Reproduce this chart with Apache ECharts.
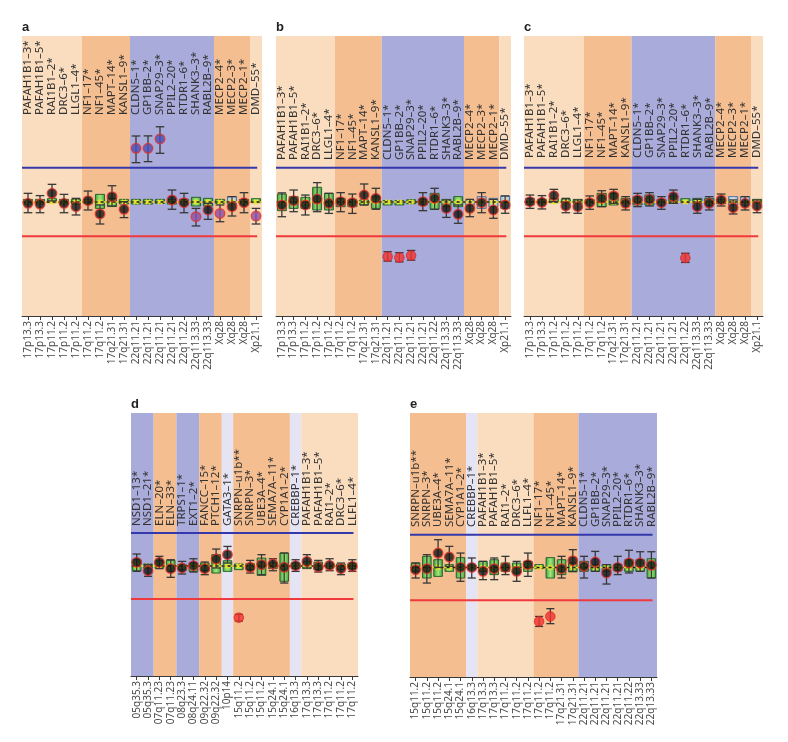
<!DOCTYPE html>
<html><head><meta charset="utf-8">
<script src="https://cdn.jsdelivr.net/npm/echarts@6/dist/echarts.min.js"></script>
<style>html,body{margin:0;padding:0;background:#fff}#c{width:788px;height:742px}</style>
</head><body><div id="c"></div>
<script>
// ---------- categories ----------
const probesABC = ['PAFAH1B1–3*','PAFAH1B1–5*','RAI1B1–2*','DRC3–6*','LLGL1–4*','NF1–17*','NF1–45*','MAPT–14*','KANSL1–9*','CLDN5–1*','GP1BB–2*','SNAP29–3*','PPIL2–20*','RTDR1–6*','SHANK3–3*','RABL2B–9*','MECP2–4*','MECP2–3*','MECP2–1*','DMD–55*'];
const bandsABC = ['17p13.3','17p13.3','17p11.2','17p11.2','17p11.2','17q11.2','17q11.2','17q21.31','17q21.31','22q11.21','22q11.21','22q11.21','22q11.21','22q11.22','22q113.33','22q113.33','Xq28','Xq28','Xq28','Xp21.1'];
const probesD = ['NSD1–13*','NSD1–21*','ELN–20*','ELN–33*','TRPS1–1*','EXT1–2*','FANCC–15*','PTCH1–12*','GATA3–1*','SNRPN–u1b**','SNRPN–3*','UBE3A–4*','SEMA7A–11*','CYP1A1–2*','CREBBP–1*','PAFAH1B1–3*','PAFAH1B1–5*','RAI1–2*','DRC3–6*','LLFL1–4*'];
const bandsD = ['05q35.3','05q35.3','07q11.23','07q11.23','08q23.3','08q24.11','09q22.32','09q22.32','10p14','15q11.2','15q11.2','15q11.2','15q24.1','15q24.1','16q13.3','17q13.3','17q13.3','17q11.2','17q11.2','17q11.2'];
const probesE = ['SNRPN–u1b**','SNRPN–3*','UBE3A–4*','SEMA7A–11*','CYP1A1–2*','CREBBP–1*','PAFAH1B1–3*','PAFAH1B1–5*','RAI1–2*','DRC3–6*','LLFL1–4*','NF1–17*','NF1–45*','MAPT–14*','KANSL1–9*','CLDN5–1*','GP1BB–2*','SNAP29–3*','PPIL2–20*','RTDR1–6*','SHANK3–3*','RABL2B–9*'];
const bandsE = ['15q11.2','15q11.2','15q11.2','15q24.1','15q24.1','16q13.3','17q13.3','17q13.3','17q11.2','17q11.2','17q11.2','17q11.2','17q11.2','17q21.31','17q21.31','22q11.21','22q11.21','22q11.21','22q11.21','22q11.22','22q13.33','22q13.33'];

// chromosome region groups: [firstIndex, lastIndex, kind]
const regionsABC = [[0,4,'peach'],[5,8,'orange'],[9,15,'blue'],[16,18,'orange'],[19,19,'peach']];
const regionsD = [[0,1,'blue'],[2,3,'orange'],[4,5,'blue'],[6,7,'orange'],[8,8,'pale'],[9,13,'orange'],[14,14,'pale'],[15,19,'peach']];
const regionsE = [[0,4,'orange'],[5,5,'pale'],[6,10,'peach'],[11,14,'orange'],[15,21,'blue']];

const thresholds = {upper:1.3, lower:0.7, ref:1.0};

// ---------- panel a ----------
const aRatio  = [0.988,0.982,1.076,0.988,0.959,1.012,0.895,1.047,0.936,1.471,1.471,1.553,1.018,0.994,0.871,0.930,0.900,0.959,0.994,0.877];
const aErrHi  = [1.076,1.056,1.155,1.067,1.032,1.096,0.974,1.143,1.003,1.579,1.580,1.660,1.105,1.076,0.944,0.988,0.974,1.047,1.082,0.944];
const aErrLo  = [0.906,0.906,1.010,0.906,0.886,0.930,0.807,0.965,0.863,1.345,1.354,1.427,0.936,0.906,0.790,0.848,0.827,0.877,0.906,0.807];
const aRefHi  = [1.023,1.023,1.012,1.023,1.023,1.018,1.067,1.032,1.023,1.023,1.023,1.018,1.023,1.023,1.041,1.032,1.018,1.047,1.023,1.012];
const aRefLo  = [0.982,0.982,0.994,0.982,0.982,0.988,0.944,0.960,0.982,0.982,0.982,0.988,0.982,0.982,0.965,0.965,0.988,0.982,0.982,0.994];
const aStatus = ['n','n','n','n','n','n','n','n','n','G','G','G','n','n','P','n','P','n','n','P'];
// ---------- panel b ----------
const bRatio  = [0.974,1.012,0.974,1.026,0.988,1.003,0.994,1.061,1.032,0.520,0.512,0.530,1.003,1.032,0.944,0.892,0.944,0.994,0.930,0.974];
const bErrHi  = [1.080,1.105,1.061,1.170,1.076,1.082,1.070,1.158,1.120,0.564,0.555,0.575,1.082,1.120,1.018,0.974,1.023,1.082,1.023,1.053];
const bErrLo  = [0.871,0.915,0.886,0.915,0.900,0.915,0.900,0.974,0.936,0.482,0.475,0.490,0.924,0.936,0.865,0.813,0.871,0.906,0.857,0.901];
const bRefHi  = [1.070,1.047,1.041,1.129,1.076,1.032,1.018,1.018,1.047,1.012,1.012,1.006,1.020,1.076,1.023,1.047,1.012,1.047,1.032,1.053];
const bRefLo  = [0.924,0.944,0.944,0.930,0.930,0.959,0.959,0.974,0.944,0.974,0.974,0.985,0.975,0.936,0.959,0.959,0.974,0.944,0.959,0.944];
const bStatus = ['n','n','n','n','n','n','n','n','n','L','L','L','n','n','n','n','n','n','n','n'];
// ---------- panel c ----------
const cRatio  = [1.003,0.997,1.056,0.965,0.959,0.994,1.032,1.053,0.988,1.018,1.023,0.994,1.047,0.509,0.959,0.988,1.018,0.950,0.988,0.965];
const cErrHi  = [1.061,1.056,1.111,1.032,1.018,1.053,1.099,1.111,1.047,1.076,1.082,1.047,1.105,0.550,1.023,1.047,1.070,1.018,1.047,1.018];
const cErrLo  = [0.944,0.939,1.003,0.906,0.901,0.936,0.959,0.988,0.930,0.959,0.965,0.936,0.988,0.470,0.901,0.930,0.965,0.895,0.930,0.906];
const cRefHi  = [1.032,1.020,1.018,1.023,1.023,1.020,1.076,1.076,1.032,1.047,1.061,1.020,1.053,1.018,1.032,1.032,1.020,1.047,1.047,1.018];
const cRefLo  = [0.974,0.985,0.994,0.988,0.988,0.985,0.959,0.974,0.988,0.974,0.974,0.985,0.988,0.994,0.988,0.974,0.985,0.974,0.974,0.988];
const cStatus = ['n','n','n','n','n','n','n','n','n','n','n','n','n','L','n','n','n','n','n','n'];
// ---------- panel d ----------
const dRatio  = [1.033,0.957,1.033,0.976,0.982,1.003,0.976,1.063,1.103,0.530,0.988,1.012,1.018,0.988,1.003,1.042,0.991,1.006,0.976,0.997];
const dErrHi  = [1.109,1.012,1.088,1.057,1.042,1.066,1.036,1.154,1.178,0.560,1.051,1.103,1.066,1.118,1.057,1.103,1.051,1.066,1.027,1.057];
const dErrLo  = [0.951,0.906,0.976,0.897,0.927,0.945,0.921,0.982,1.027,0.500,0.936,0.921,0.957,0.845,0.951,0.982,0.945,0.957,0.921,0.951];
const dRefHi  = [1.057,1.012,1.048,1.051,1.012,1.027,1.027,1.103,1.048,1.018,1.021,1.072,1.027,1.118,1.027,1.042,1.036,1.018,1.018,1.027];
const dRefLo  = [0.957,0.982,0.982,0.951,0.967,0.951,0.957,0.936,0.951,0.967,0.967,0.915,0.976,0.861,0.976,0.976,0.967,0.982,0.967,0.976];
const dStatus = ['n','n','n','n','n','n','n','n','n','L','n','n','n','n','n','n','n','n','n','n'];
// ---------- panel e ----------
const eRatio  = [0.980,0.989,1.132,1.096,1.001,1.001,0.965,0.989,1.001,0.965,1.026,0.508,0.553,0.989,1.062,1.011,1.050,0.950,1.001,1.041,1.041,1.020];
const eErrHi  = [1.041,1.117,1.254,1.193,1.132,1.087,1.056,1.087,1.102,1.056,1.132,0.553,0.624,1.102,1.163,1.102,1.147,1.026,1.102,1.157,1.144,1.144];
const eErrLo  = [0.904,0.858,1.001,1.011,0.874,0.904,0.889,0.889,0.935,0.874,0.919,0.462,0.487,0.904,0.965,0.904,0.965,0.849,0.935,0.950,0.965,0.904];
const eRefHi  = [1.041,1.102,1.071,1.026,1.090,1.015,1.056,1.071,1.041,1.041,1.056,1.011,1.090,1.071,1.041,1.056,1.026,1.026,1.026,1.071,1.071,1.080];
const eRefLo  = [0.965,0.904,0.919,0.965,0.904,0.985,0.965,0.935,0.965,0.950,0.965,0.990,0.904,0.935,0.960,0.965,0.965,0.965,0.970,0.965,0.965,0.904];
const eStatus = ['n','n','n','n','n','n','n','n','n','n','n','L','L','n','n','n','n','n','n','n','n','n'];

// ---------- styles ----------
const REGION_COLORS = {peach:'#FADCBF', orange:'#F5BE91', blue:'#A9ABDA', pale:'#E4E4F4'};
const STATUS_STYLE = {
  n:{color:'#141414', borderColor:'#E2302B', borderWidth:1.4},
  L:{color:'#F2322F', borderColor:'#D92222', borderWidth:1},
  G:{color:'#4A4DB4', borderColor:'#E2302B', borderWidth:1.4},
  P:{color:'#8E50A8', borderColor:'#E2302B', borderWidth:1.4}
};
const slateBoxes = {a:[17], b:[16,17,18,19], c:[0,17,18], d:[], e:[]};
const FONT = "'Noto Sans', 'Open Sans', sans-serif";

const panels = [
  {key:'a', names:probesABC, bands:bandsABC, regions:regionsABC, r:aRatio, eHi:aErrHi, eLo:aErrLo, bHi:aRefHi, bLo:aRefLo, st:aStatus,
   lay:{left:22, top:36, width:240, height:280, scale:114, labelBase:115}},
  {key:'b', names:probesABC, bands:bandsABC, regions:regionsABC, r:bRatio, eHi:bErrHi, eLo:bErrLo, bHi:bRefHi, bLo:bRefLo, st:bStatus,
   lay:{left:276, top:36, width:235, height:280, scale:114, labelBase:160}},
  {key:'c', names:probesABC, bands:bandsABC, regions:regionsABC, r:cRatio, eHi:cErrHi, eLo:cErrLo, bHi:cRefHi, bLo:cRefLo, st:cStatus,
   lay:{left:524, top:36, width:239, height:280, scale:114, labelBase:158}},
  {key:'d', names:probesD, bands:bandsD, regions:regionsD, r:dRatio, eHi:dErrHi, eLo:dErrLo, bHi:dRefHi, bLo:dRefLo, st:dStatus,
   lay:{left:131, top:413, width:227, height:263, scale:110, labelBase:526}},
  {key:'e', names:probesE, bands:bandsE, regions:regionsE, r:eRatio, eHi:eErrHi, eLo:eErrLo, bHi:eRefHi, bLo:eRefLo, st:eStatus,
   lay:{left:410, top:413, width:247, height:264, scale:109.5, labelBase:527}}
];

const grid = [], xAxis = [], yAxis = [], series = [], title = [];
panels.forEach((p, k) => {
  const L = p.lay;
  grid.push({left:L.left, top:L.top, width:L.width, height:L.height, containLabel:false, outerBoundsMode:'none'});
  xAxis.push({type:'category', gridIndex:k, data:p.bands, position:'bottom', boundaryGap:true,
    axisLine:{show:true, onZero:false, lineStyle:{color:'#3a3a3a', width:1}},
    axisTick:{show:true, alignWithLabel:true, length:4, lineStyle:{color:'#3a3a3a'}},
    axisLabel:{interval:0, rotate:90, margin:5, fontSize:10, color:'#4a4a4a', fontFamily:FONT, hideOverlap:false},
    splitLine:{show:false}});
  yAxis.push({type:'value', gridIndex:k, min:0, max:L.height / L.scale, show:false, splitLine:{show:false}});

  const xi = k, yi = k;
  const slate = slateBoxes[p.key];
  // background chromosome regions
  series.push({type:'custom', xAxisIndex:xi, yAxisIndex:yi, silent:true, z:1, clip:false,
    data:p.regions.map(r => [r[0], 0]),
    renderItem:(params, api) => {
      const r = p.regions[params.dataIndex];
      const bw = api.size([1,0])[0];
      const x0 = api.coord([r[0], 0])[0] - bw/2;
      const x1 = api.coord([r[1], 0])[0] + bw/2;
      const cs = params.coordSys;
      return {type:'rect', shape:{x:x0, y:cs.y, width:x1-x0, height:cs.height}, style:{fill:REGION_COLORS[r[2]]}};
    }});
  // probe name labels
  series.push({type:'custom', xAxisIndex:xi, yAxisIndex:yi, silent:true, z:7, clip:false,
    data:p.names.map((n,i) => [i, 0]),
    renderItem:(params, api) => {
      const i = api.value(0);
      const x = api.coord([i, 0])[0];
      return {type:'text', x:x, y:L.labelBase, rotation:Math.PI/2,
        style:{text:p.names[i], fontSize:11.5, fontFamily:FONT, fill:'#333', align:'left', verticalAlign:'middle'}};
    }});
  // threshold lines
  series.push({type:'custom', xAxisIndex:xi, yAxisIndex:yi, silent:true, z:2, clip:false,
    data:[[0, thresholds.ref]],
    renderItem:(params, api) => {
      const cs = params.coordSys;
      const bw = api.size([1,0])[0];
      const xEnd = api.coord([p.names.length-1, 0])[0] + bw*0.1;
      const yU = api.coord([0, thresholds.upper])[1], yL = api.coord([0, thresholds.lower])[1];
      return {type:'group', children:[
        {type:'line', shape:{x1:cs.x, y1:yU, x2:xEnd, y2:yU}, style:{stroke:'#3438AC', lineWidth:2}},
        {type:'line', shape:{x1:cs.x, y1:yL, x2:xEnd, y2:yL}, style:{stroke:'#F0393C', lineWidth:2}}
      ]};
    }});
  // reference boxes
  series.push({type:'custom', xAxisIndex:xi, yAxisIndex:yi, silent:true, z:3, clip:false,
    data:p.bLo.map((v,i) => [i, v, p.bHi[i]]),
    renderItem:(params, api) => {
      const i = api.value(0);
      const bw = api.size([1,0])[0];
      const pLo = api.coord([i, api.value(1)]), pHi = api.coord([i, api.value(2)]);
      const w = bw*0.76;
      const h = Math.max(pLo[1]-pHi[1], 4);
      const isSlate = slate.indexOf(i) >= 0;
      const fill = isSlate
        ? new echarts.graphic.LinearGradient(0,0,1,0,[{offset:0,color:'#9EB3C6'},{offset:0.5,color:'#DCE6EE'},{offset:1,color:'#9EB3C6'}])
        : new echarts.graphic.LinearGradient(0,0,1,0,[{offset:0,color:'#35A23C'},{offset:0.5,color:'#A6E67A'},{offset:1,color:'#35A23C'}]);
      const c = api.coord([i, thresholds.ref]);
      const s = 2.2;
      return {type:'group', children:[
        {type:'rect', shape:{x:pLo[0]-w/2, y:pLo[1]-h, width:w, height:h}, style:{fill:fill, stroke:isSlate?'#56739C':'#2C612E', lineWidth:1}},
        {type:'line', shape:{x1:c[0]-s, y1:c[1]-s, x2:c[0]+s, y2:c[1]+s}, style:{stroke:'#F4E81A', lineWidth:1.6}},
        {type:'line', shape:{x1:c[0]-s, y1:c[1]+s, x2:c[0]+s, y2:c[1]-s}, style:{stroke:'#F4E81A', lineWidth:1.6}}
      ]};
    }});
  // reference dashed line
  series.push({type:'custom', xAxisIndex:xi, yAxisIndex:yi, silent:true, z:4, clip:false,
    data:[[0, thresholds.ref]],
    renderItem:(params, api) => {
      const bw = api.size([1,0])[0];
      const x0 = api.coord([0, 0])[0] - bw*0.45;
      const x1 = api.coord([p.names.length-1, 0])[0] + bw*0.45;
      const y = api.coord([0, thresholds.ref])[1];
      return {type:'group', children:[
        {type:'line', shape:{x1:x0, y1:y, x2:x1, y2:y}, style:{stroke:'#E8DC3A', lineWidth:1.5}},
        {type:'line', shape:{x1:x0, y1:y, x2:x1, y2:y}, style:{stroke:'#1e1e1e', lineWidth:1.5, lineDash:[3,3]}}
      ]};
    }});
  // error bars
  series.push({type:'custom', xAxisIndex:xi, yAxisIndex:yi, silent:true, z:5, clip:false,
    data:p.eLo.map((v,i) => [i, v, p.eHi[i]]),
    renderItem:(params, api) => {
      const i = api.value(0);
      const bw = api.size([1,0])[0];
      const pLo = api.coord([i, api.value(1)]), pHi = api.coord([i, api.value(2)]);
      const cw = bw*0.36;
      const st = {stroke:'#383838', lineWidth:1.3};
      return {type:'group', children:[
        {type:'line', shape:{x1:pLo[0], y1:pLo[1], x2:pHi[0], y2:pHi[1]}, style:st},
        {type:'line', shape:{x1:pLo[0]-cw, y1:pLo[1], x2:pLo[0]+cw, y2:pLo[1]}, style:st},
        {type:'line', shape:{x1:pHi[0]-cw, y1:pHi[1], x2:pHi[0]+cw, y2:pHi[1]}, style:st}
      ]};
    }});
  // sample ratios
  series.push({type:'scatter', xAxisIndex:xi, yAxisIndex:yi, z:6, silent:true, symbol:'circle', symbolSize:9.5,
    data:p.r.map((v,i) => ({value:[i, v], itemStyle:STATUS_STYLE[p.st[i]]}))});

  title.push({text:p.key, left:L.left, top:L.top-15, padding:0,
    textStyle:{fontSize:13, fontWeight:'bold', color:'#222', fontFamily:"'Liberation Sans', Arial, sans-serif"}});
});

const chart = echarts.init(document.getElementById('c'));
chart.setOption({animation:false, backgroundColor:'#fff', title, grid, xAxis, yAxis, series});
</script></body></html>
